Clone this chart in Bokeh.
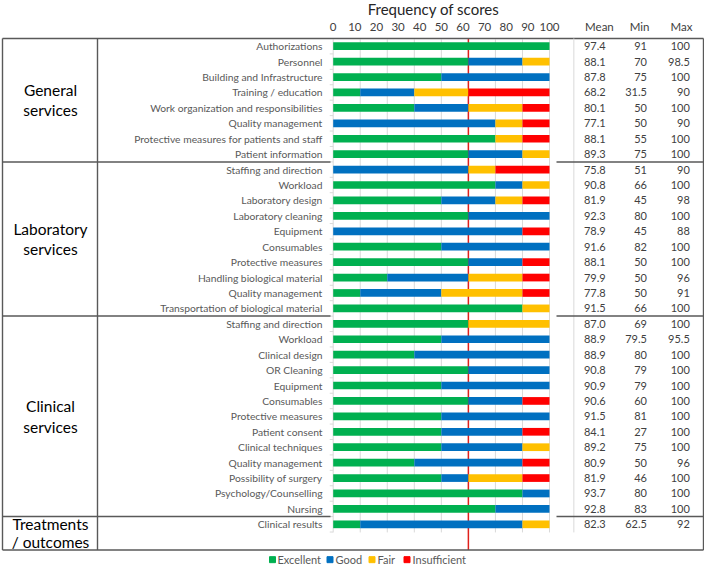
from bokeh.plotting import figure
from bokeh.models import Range1d, ColumnDataSource
from bokeh.embed import file_html
from bokeh.resources import INLINE
from bokeh.core.properties import value

# ---------------- data ----------------
group_lines = [["General", "services"], ["Laboratory", "services"],
               ["Clinical", "services"], ["Treatments", "/ outcomes"]]
group_sizes = [8, 10, 13, 1]

categories = [
    "Authorizations", "Personnel", "Building and Infrastructure", "Training / education",
    "Work organization and responsibilities", "Quality management",
    "Protective measures for patients and staff", "Patient information",
    "Staffing and direction", "Workload", "Laboratory design", "Laboratory cleaning",
    "Equipment", "Consumables", "Protective measures", "Handling biological material",
    "Quality management", "Transportation of biological material",
    "Staffing and direction", "Workload", "Clinical design", "OR Cleaning", "Equipment",
    "Consumables", "Protective measures", "Patient consent", "Clinical techniques",
    "Quality management", "Possibility of surgery", "Psychology/Counselling", "Nursing",
    "Clinical results",
]

excellent = [100, 62.5, 50, 12.5, 37.5, 0, 75, 62.5,
             0, 75, 50, 62.5, 0, 50, 62.5, 25, 12.5, 87.5,
             62.5, 50, 37.5, 62.5, 50, 62.5, 50, 50, 50, 37.5, 50, 87.5, 75,
             12.5]
good = [0, 25, 50, 25, 25, 75, 0, 25,
        62.5, 12.5, 25, 37.5, 87.5, 50, 25, 37.5, 37.5, 0,
        0, 50, 62.5, 37.5, 50, 25, 50, 37.5, 37.5, 50, 12.5, 12.5, 25,
        75]
fair = [0, 12.5, 0, 25, 25, 12.5, 12.5, 12.5,
        12.5, 12.5, 12.5, 0, 0, 0, 0, 25, 37.5, 12.5,
        37.5, 0, 0, 0, 0, 0, 0, 0, 12.5, 0, 25, 0, 0,
        12.5]
insufficient = [0, 0, 0, 37.5, 12.5, 12.5, 12.5, 0,
                25, 0, 12.5, 0, 12.5, 0, 12.5, 12.5, 12.5, 0,
                0, 0, 0, 0, 0, 12.5, 0, 12.5, 0, 12.5, 12.5, 0, 0,
                0]

mean = [97.4, 88.1, 87.8, 68.2, 80.1, 77.1, 88.1, 89.3,
        75.8, 90.8, 81.9, 92.3, 78.9, 91.6, 88.1, 79.9, 77.8, 91.5,
        87.0, 88.9, 88.9, 90.8, 90.9, 90.6, 91.5, 84.1, 89.2, 80.9, 81.9, 93.7, 92.8,
        82.3]
min_score = [91, 70, 75, 31.5, 50, 50, 55, 75,
             51, 66, 45, 80, 45, 82, 50, 50, 50, 66,
             69, 79.5, 80, 79, 79, 60, 81, 27, 75, 50, 46, 80, 83,
             62.5]
max_score = [100, 98.5, 100, 90, 100, 90, 100, 100,
             90, 100, 98, 100, 88, 100, 100, 96, 91, 100,
             100, 95.5, 100, 100, 100, 100, 100, 100, 100, 96, 100, 100, 100,
             92]

score_ticks = [0, 10, 20, 30, 40, 50, 60, 70, 80, 90, 100]
grid_marks = [0, 12.5, 25, 37.5, 50, 62.5, 75, 87.5, 100]
threshold = 62.5

series = ["Excellent", "Good", "Fair", "Insufficient"]
colors = ["#00B050", "#0070C0", "#FFC000", "#FF0000"]

FONT = value("Lato")
GRAY_TXT = "#595959"
DARK_TXT = "#404040"
LINE_DARK = "#595959"
LINE_LIGHT = "#D9D9D9"

# ---------------- layout helpers (page pixels) ----------------
W, H = 704, 565


def fx(x):
    # identity for the chart body, compress the stats block so it fits
    if x <= 556:
        return x
    return 556 + (x - 556) * (W - 1 - 556) / (717 - 556)


n = len(categories)
rows = list(range(n))
ROW0, PITCH = 47.0, 15.86          # row 0 centre / row pitch (reference pixels)
X0, XS = 332.7, 2.163             # score 0 position / px per score unit

p = figure(width=W, height=H, x_range=Range1d(0, W), y_range=Range1d(581, 0),
           output_backend="svg", toolbar_location=None, min_border=0,
           x_axis_location=None, y_axis_location=None)
p.grid.visible = False
p.outline_line_color = None
p.background_fill_color = "white"
p.extra_x_ranges = {"score": Range1d(-X0 / XS, (W - X0) / XS)}
p.extra_y_ranges = {"row": Range1d((581 - ROW0) / PITCH, -ROW0 / PITCH)}

# grid lines and threshold line
p.segment(x0=grid_marks, x1=grid_marks, y0=[40] * len(grid_marks), y1=[547] * len(grid_marks),
          x_range_name="score", line_color=LINE_LIGHT, line_width=1)
p.segment(x0=[threshold], x1=[threshold], y0=[39], y1=[565], x_range_name="score",
          line_color="#E0201B", line_width=1.5)

# small category-axis ticks
bounds = [r - 0.5 for r in range(n + 1)]
p.segment(x0=[-1.6] * len(bounds), x1=[0] * len(bounds), y0=bounds, y1=bounds,
          x_range_name="score", y_range_name="row", line_color=LINE_LIGHT, line_width=1)

# stacked bars
src = ColumnDataSource(dict(row=rows, Excellent=excellent, Good=good, Fair=fair,
                            Insufficient=insufficient))
p.hbar_stack(series, y="row", height=0.5, color=colors, source=src,
             x_range_name="score", y_range_name="row", line_color=None)

# category labels
p.text(x=[322] * n, y=rows, text=categories, y_range_name="row",
       text_align="right", text_baseline="middle", text_font=FONT,
       text_font_size="10.3px", text_color=GRAY_TXT)

# stats columns
p.text(x=[fx(586)] * n, y=rows, text=[f"{v:.1f}" for v in mean], y_range_name="row",
       text_align="left", text_baseline="middle", text_font=FONT,
       text_font_size="11px", text_color=DARK_TXT)
p.text(x=[fx(655)] * n, y=rows, text=[f"{v:g}" for v in min_score], y_range_name="row",
       text_align="right", text_baseline="middle", text_font=FONT,
       text_font_size="11px", text_color=DARK_TXT)
p.text(x=[fx(702)] * n, y=rows, text=[f"{v:g}" for v in max_score], y_range_name="row",
       text_align="right", text_baseline="middle", text_font=FONT,
       text_font_size="11px", text_color=DARK_TXT)

# headers
p.text(x=score_ticks, y=[27] * len(score_ticks), text=[str(t) for t in score_ticks],
       x_range_name="score", text_align="center", text_baseline="middle",
       text_font=FONT, text_font_size="11.5px", text_color=DARK_TXT)
p.text(x=[433], y=[9], text=["Frequency of scores"], text_align="center",
       text_baseline="middle", text_font=FONT, text_font_size="15px", text_color="#262626")
p.text(x=[fx(603), fx(647), fx(693)], y=[27, 27, 27], text=["Mean", "Min", "Max"],
       text_align="center", text_baseline="middle", text_font=FONT,
       text_font_size="11.5px", text_color=DARK_TXT)

# table lines
top, bottom = 39, 565
right = fx(717)
p.segment(x0=[2, 2], x1=[right, right], y0=[top, bottom], y1=[top, bottom],
          line_color=LINE_DARK, line_width=1.6)
p.segment(x0=[2, 97, right], x1=[2, 97, right], y0=[top] * 3, y1=[bottom] * 3,
          line_color=LINE_DARK, line_width=1.4)
p.segment(x0=[fx(575)], x1=[fx(575)], y0=[top], y1=[547], line_color=LINE_LIGHT, line_width=1)

# group separators and group labels
start = 0
sep_rows = []
g_y, g_txt = [], []
for lines, size in zip(group_lines, group_sizes):
    centre = start + (size - 1) / 2.0
    if size > 1:
        g_y += [centre - 0.66, centre + 0.66]
    else:
        g_y += [centre - 0.02, centre + 1.17]
    g_txt += lines
    start += size
    if start < n:
        sep_rows.append(start - 0.5)

for a, b in [(2, 330), (fx(556), right)]:
    p.segment(x0=[a] * len(sep_rows), x1=[b] * len(sep_rows), y0=sep_rows, y1=sep_rows,
              y_range_name="row", line_color=LINE_DARK, line_width=1.5)

p.text(x=[50] * len(g_y), y=g_y, text=g_txt, y_range_name="row", text_align="center",
       text_baseline="middle", text_font=FONT, text_font_size="15.5px", text_color="#000000")

# legend
leg_sq_x = [272, 329.5, 371.5, 406.5]
leg_tx_x = [277, 335, 377, 412]
p.scatter(x=leg_sq_x, y=[575] * 4, marker="square", size=6, color=colors)
p.text(x=leg_tx_x, y=[575] * 4, text=series, text_align="left", text_baseline="middle",
       text_font=FONT, text_font_size="11px", text_color=GRAY_TXT)

open("out.html", "w").write(file_html(p, INLINE))
